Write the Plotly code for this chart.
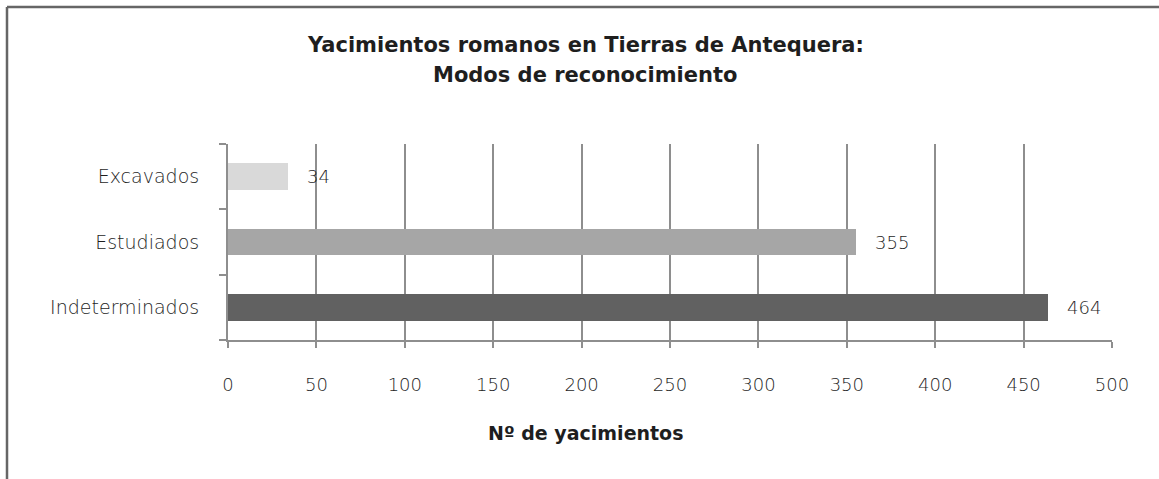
import plotly.graph_objects as go

categories = ["Indeterminados", "Estudiados", "Excavados"]
values = [464, 355, 34]
bar_colors = ["#616161", "#a6a6a6", "#d9d9d9"]
x_ticks = [0, 50, 100, 150, 200, 250, 300, 350, 400, 450, 500]
title_lines = ["Yacimientos romanos en Tierras de Antequera:", "Modos de reconocimiento"]
x_title = "Nº de yacimientos"

W, H = 1159, 479
L, R, T, B = 228, 47, 144, 139
pw, ph = W - L - R, H - T - B


def px_x(p):
    return (p - L) / pw


def px_y(p):
    return (H - B - p) / ph


FAM = "DejaVu Sans"
cat_font = dict(family=FAM, size=19, color="#1e1e1e", weight=200)
num_font = dict(family=FAM, size=18, color="#1e1e1e", weight=200)
bold_col = "#1e1e1e"

fig = go.Figure()
fig.add_trace(go.Bar(
    y=categories, x=values, orientation="h",
    marker=dict(color=bar_colors, line=dict(width=0)),
    width=0.41, hoverinfo="skip",
))

for c, v in zip(categories, values):
    fig.add_annotation(x=v, y=c, text=str(v), showarrow=False,
                       xanchor="left", xshift=17, font=num_font)

for txt, yc in zip(title_lines, [45, 75]):
    fig.add_annotation(xref="paper", yref="paper", x=px_x(585), y=px_y(yc),
                       text="<b>" + txt + "</b>", showarrow=False,
                       xanchor="center", yanchor="middle",
                       font=dict(family=FAM, size=21, color=bold_col))
fig.add_annotation(xref="paper", yref="paper", x=px_x(585), y=px_y(433),
                   text="<b>" + x_title + "</b>", showarrow=False,
                   xanchor="center", yanchor="middle",
                   font=dict(family=FAM, size=19, color=bold_col))

border = dict(color="#666666", width=2.5)
fig.add_shape(type="line", xref="paper", yref="paper",
              x0=px_x(7), x1=px_x(1165), y0=px_y(7), y1=px_y(7), line=border)
fig.add_shape(type="line", xref="paper", yref="paper",
              x0=px_x(7), x1=px_x(7), y0=px_y(7), y1=px_y(485), line=border)

fig.update_layout(
    width=W, height=H,
    margin=dict(l=L, r=R, t=T, b=B),
    paper_bgcolor="white", plot_bgcolor="white",
    showlegend=False,
    bargap=0,
)
fig.update_xaxes(range=[0, 500], tickvals=x_ticks, showgrid=True,
                 gridcolor="#8e8e8e", gridwidth=1.5,
                 showline=True, linecolor="#8e8e8e", linewidth=2,
                 ticks="outside", ticklen=6, tickcolor="#8e8e8e", tickwidth=2,
                 tickfont=num_font, ticklabelstandoff=21, zeroline=False)
fig.update_yaxes(range=[-0.5, 2.5], showgrid=False,
                 showline=True, linecolor="#8e8e8e", linewidth=2,
                 ticks="outside", ticklen=7, tickcolor="#8e8e8e", tickwidth=2,
                 tickson="boundaries", tickfont=cat_font, ticklabelstandoff=23)

fig.write_html("out.html", config={"displayModeBar": False},
               post_script="document.body.style.margin='0';document.body.style.overflow='hidden';")
